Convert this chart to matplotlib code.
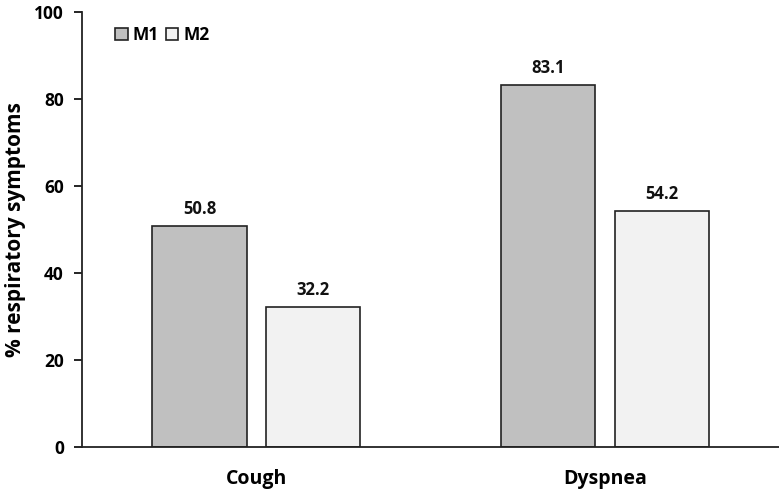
import matplotlib
matplotlib.use("Agg")
import matplotlib.pyplot as plt
import numpy as np

categories = ["Cough", "Dyspnea"]
series_names = ["M1", "M2"]
m1_values = [50.8, 83.1]
m2_values = [32.2, 54.2]
yticks = [0, 20, 40, 60, 80, 100]

plt.rcParams['font.family'] = ['Open Sans', 'DejaVu Sans']

fig = plt.figure(figsize=(7.79, 4.95), dpi=100)
ax = fig.add_axes([0.1053, 0.097, 0.8947, 0.8788])

x = np.arange(len(categories))
w = 0.27
off = 0.163
b1 = ax.bar(x - off, m1_values, w, color="#c0c0c0", edgecolor="#222222", linewidth=1.2, label=series_names[0])
b2 = ax.bar(x + off, m2_values, w, color="#f2f2f2", edgecolor="#222222", linewidth=1.2, label=series_names[1])

for bars, vals in ((b1, m1_values), (b2, m2_values)):
    for r, v in zip(bars, vals):
        ax.annotate(f"{v:.1f}", (r.get_x() + r.get_width() / 2, v), xytext=(0, 6),
                    textcoords="offset points", ha="center", va="bottom",
                    fontsize=12, fontweight="bold", color="#111111")

ax.set_xlim(-0.5, 1.5)
ax.set_ylim(0, 100)
ax.set_yticks(yticks)
ax.set_yticklabels([str(t) for t in yticks], fontsize=12.5, fontweight="bold")
ax.set_xticks(x)
ax.set_xticklabels(categories, fontsize=14, fontweight="bold")
ax.tick_params(axis="x", length=0, pad=16)
ax.tick_params(axis="y", direction="out", length=6, width=1.2, pad=7)
ax.set_ylabel("% respiratory symptoms", fontsize=15, fontweight="bold", labelpad=6)

for s in ("top", "right"):
    ax.spines[s].set_visible(False)
for s in ("left", "bottom"):
    ax.spines[s].set_linewidth(1.3)
    ax.spines[s].set_color("#222222")

leg = ax.legend(loc="upper left", bbox_to_anchor=(0.028, 1.0), ncol=2, frameon=False,
                handlelength=0.7, handleheight=0.7, handletextpad=0.3, columnspacing=0.4,
                borderpad=0.3, prop={"weight": "bold", "size": 12.5})

fig.savefig("out.png", dpi=100)
